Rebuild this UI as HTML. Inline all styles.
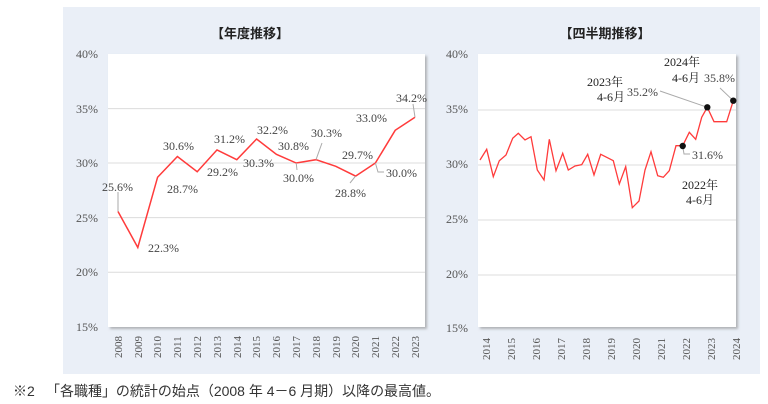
<!DOCTYPE html>
<html><head><meta charset="utf-8"><style>
body{margin:0;width:768px;height:404px;background:#fff;overflow:hidden;font-family:"Liberation Sans","Noto Sans CJK JP",sans-serif}
</style></head><body>
<svg width="768" height="404" xmlns="http://www.w3.org/2000/svg" style="position:absolute;left:0;top:0">
<defs><filter id="sh" x="-5%" y="-5%" width="110%" height="110%"><feDropShadow dx="2" dy="2" stdDeviation="1.2" flood-color="#888" flood-opacity="0.6"/></filter></defs>
<rect x="63" y="7" width="697" height="367" fill="#eaeff7"/>
<rect x="108" y="54" width="317" height="273" fill="#fff" filter="url(#sh)"/>
<rect x="478" y="54" width="258" height="273" fill="#fff" filter="url(#sh)"/>
<g stroke="#dcdcdc" stroke-width="1">
<line x1="108" x2="425" y1="108.6" y2="108.6"/><line x1="108" x2="425" y1="163" y2="163"/><line x1="108" x2="425" y1="217.6" y2="217.6"/><line x1="108" x2="425" y1="272.2" y2="272.2"/>
<line x1="478" x2="736" y1="110" y2="110"/><line x1="478" x2="736" y1="165" y2="165"/><line x1="478" x2="736" y1="220" y2="220"/><line x1="478" x2="736" y1="275" y2="275"/>
</g>
<g font-family="Liberation Serif, serif" font-size="12" fill="#555" text-anchor="end">
<text x="98" y="58">40%</text><text x="98" y="113">35%</text><text x="98" y="167">30%</text><text x="98" y="222">25%</text><text x="98" y="276">20%</text><text x="98" y="331">15%</text>
<text x="468" y="58">40%</text><text x="468" y="113">35%</text><text x="468" y="168">30%</text><text x="468" y="223">25%</text><text x="468" y="278">20%</text><text x="468" y="332">15%</text>
</g>
<g font-family="Liberation Serif, serif" font-size="11" fill="#555">
<text transform="translate(122,358) rotate(-90)">2008</text><text transform="translate(142,358) rotate(-90)">2009</text><text transform="translate(161,358) rotate(-90)">2010</text><text transform="translate(181,358) rotate(-90)">2011</text><text transform="translate(201,358) rotate(-90)">2012</text><text transform="translate(221,358) rotate(-90)">2013</text><text transform="translate(241,358) rotate(-90)">2014</text><text transform="translate(260,358) rotate(-90)">2015</text><text transform="translate(280,358) rotate(-90)">2016</text><text transform="translate(300,358) rotate(-90)">2017</text><text transform="translate(320,358) rotate(-90)">2018</text><text transform="translate(340,358) rotate(-90)">2019</text><text transform="translate(359,358) rotate(-90)">2020</text><text transform="translate(379,358) rotate(-90)">2021</text><text transform="translate(399,358) rotate(-90)">2022</text><text transform="translate(419,358) rotate(-90)">2023</text>
<text transform="translate(490,360) rotate(-90)">2014</text><text transform="translate(515,360) rotate(-90)">2015</text><text transform="translate(540,360) rotate(-90)">2016</text><text transform="translate(565,360) rotate(-90)">2017</text><text transform="translate(590,360) rotate(-90)">2018</text><text transform="translate(615,360) rotate(-90)">2019</text><text transform="translate(640,360) rotate(-90)">2020</text><text transform="translate(665,360) rotate(-90)">2021</text><text transform="translate(690,360) rotate(-90)">2022</text><text transform="translate(715,360) rotate(-90)">2023</text><text transform="translate(740,360) rotate(-90)">2024</text>
</g>
<g font-size="13" font-weight="bold" fill="#222" text-anchor="middle" font-family="Liberation Sans, Noto Sans CJK JP, sans-serif">
<text x="250" y="38">【年度推移】</text><text x="605" y="38">【四半期推移】</text>
</g>
<polyline fill="none" stroke="#ff3b3b" stroke-width="1.5" points="118,211.5 137.8,247.5 157.6,177.2 177.4,156.5 197.2,171.7 217,149.9 236.8,159.7 256.6,139 276.4,154.3 296.2,163 316,159.7 335.8,166.3 355.6,176.1 375.4,163 395.2,130.3 415,117.2"/>
<g stroke="#aaa" stroke-width="1" fill="none">
<polyline points="118,211.5 118,192"/><polyline points="375.4,163 378,172 384,172"/><polyline points="355.6,176.1 350,183"/><polyline points="316,159.7 322,143"/><polyline points="296.2,163 297,170"/><polyline points="415,117.2 413,104"/>
<polyline points="682.7,146 684,154 690,154"/><polyline points="707.3,107.3 660,91"/><polyline points="733.3,100.7 720,88"/>
</g>
<g font-family="Liberation Serif, serif" font-size="12" fill="#444">
<text x="102" y="191">25.6%</text><text x="148" y="252">22.3%</text><text x="167" y="193">28.7%</text><text x="163" y="150">30.6%</text><text x="214" y="143">31.2%</text><text x="207" y="176">29.2%</text><text x="243" y="167">30.3%</text><text x="257" y="134">32.2%</text><text x="278" y="150">30.8%</text><text x="283" y="182">30.0%</text><text x="311" y="137">30.3%</text><text x="342" y="159">29.7%</text><text x="335" y="197">28.8%</text><text x="386" y="177">30.0%</text><text x="356" y="122">33.0%</text><text x="396" y="102">34.2%</text>
</g>
<polyline fill="none" stroke="#ff3b3b" stroke-width="1.3" points="480,160 486.7,149.3 493.3,176.7 499.3,160.7 506,155 512.7,138.3 518.3,133.3 525,140 531,136.7 537.3,170 544,180 549.3,139.3 556,170.7 562.7,153.3 568.3,170 575,166 581.7,164.7 587.7,154.3 594,175 600.7,154.3 606.7,157.3 613.3,160.7 619.3,184 625.7,166.7 632.3,207.7 639,201 645,170 651,151.7 657.7,175.7 663.3,177.3 669.3,170.7 676,145.7 682.7,145.7 689.3,132.3 695.7,139.3 701.7,117.3 707.3,107.3 714,121.7 720.7,121.7 726.7,121.7 733.3,100.7"/>
<g fill="#111"><circle cx="682.7" cy="146" r="3.2"/><circle cx="707.3" cy="107.3" r="3.2"/><circle cx="733.3" cy="100.7" r="3.2"/></g>
<g font-family="Liberation Serif, Noto Serif CJK SC, serif" font-size="12" fill="#222" text-anchor="middle">
<text x="605" y="86">2023年</text><text x="611" y="101">4-6月</text>
<text x="682" y="66">2024年</text><text x="686" y="82">4-6月</text>
<text x="700" y="189">2022年</text><text x="700" y="204">4-6月</text>
</g>
<g font-family="Liberation Serif, serif" font-size="12" fill="#444">
<text x="627" y="96">35.2%</text><text x="704" y="82">35.8%</text><text x="692" y="159">31.6%</text>
</g>
<g font-size="14" fill="#333" font-family="Liberation Sans, Noto Sans CJK JP, sans-serif">
<text x="13" y="396">※2</text>
<text x="46" y="396" textLength="394" lengthAdjust="spacingAndGlyphs">「各職種」の統計の始点（2008 年 4－6 月期）以降の最高値。</text>
</g>
</svg>
</body></html>
